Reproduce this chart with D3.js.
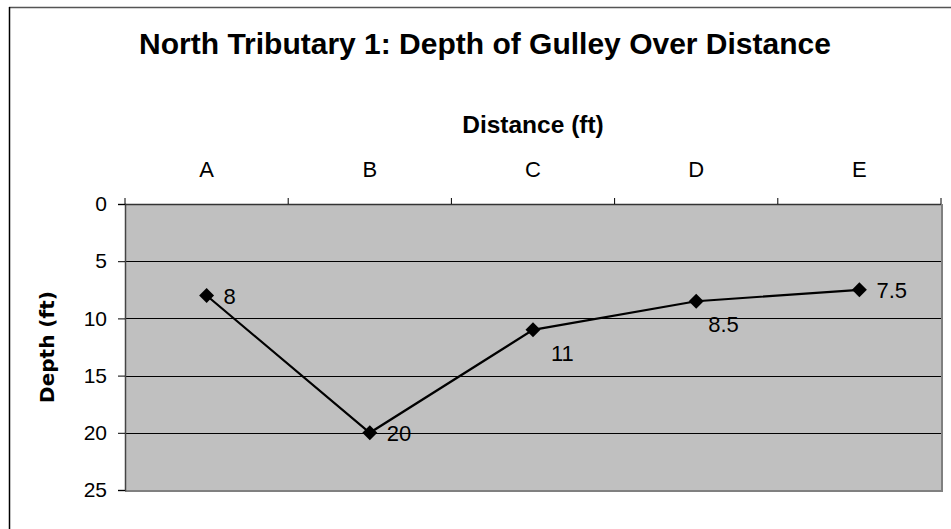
<!DOCTYPE html>
<html>
<head>
<meta charset="utf-8">
<script src="https://cdn.jsdelivr.net/npm/d3@7"></script>
<style>
  body { margin: 0; background: #fff; }
  text { font-family: "Liberation Sans", Arial, sans-serif; fill: #000; }
</style>
</head>
<body>
<div id="chart"></div>
<script>
// data
var categories = ["A", "B", "C", "D", "E"];
var depths = [8, 20, 11, 8.5, 7.5];
var yTicks = [0, 5, 10, 15, 20, 25];
// label placement per point: "right" or "below"
var labelPos = ["right", "right", "below", "below", "right"];

var W = 951, H = 529;
var margin = {top: 204, right: 10, bottom: 39, left: 125},
    width = W - margin.left - margin.right,
    height = H - margin.top - margin.bottom;

const svg = d3.select("#chart")
  .append("svg")
    .attr("width", W)
    .attr("height", H);

// outer frame (top + left lines)
svg.append("line").attr("x1", 9).attr("x2", W).attr("y1", 7.5).attr("y2", 7.5)
  .attr("stroke", "#555").attr("stroke-width", 1.5);
svg.append("line").attr("x1", 9.5).attr("x2", 9.5).attr("y1", 7).attr("y2", H)
  .attr("stroke", "#000").attr("stroke-width", 1.5);

// title
svg.append("text")
  .attr("x", 485).attr("y", 54)
  .attr("text-anchor", "middle")
  .style("font-size", "30px").style("font-weight", "bold")
  .text("North Tributary 1: Depth of Gulley Over Distance");

const g = svg.append("g")
  .attr("transform", `translate(${margin.left},${margin.top})`);

var xscale = d3.scaleBand().domain(categories).range([0, width]);
var yscale = d3.scaleLinear().domain([0, 25]).range([0, height]);

// plot area
g.append("rect")
  .attr("width", width).attr("height", height)
  .attr("fill", "#c0c0c0");

// gridlines
g.selectAll(".grid")
  .data(yTicks.filter(d => d > 0 && d < 25))
  .join("line")
    .attr("x1", 0).attr("x2", width)
    .attr("y1", d => Math.round(yscale(d)) + 0.5)
    .attr("y2", d => Math.round(yscale(d)) + 0.5)
    .attr("stroke", "#000").attr("stroke-width", 1);

// right & bottom border
g.append("line").attr("x1", width + 1).attr("x2", width + 1).attr("y1", 0).attr("y2", height + 2)
  .attr("stroke", "#808080").attr("stroke-width", 2);
g.append("line").attr("x1", 0).attr("x2", width + 2).attr("y1", height + 1).attr("y2", height + 1)
  .attr("stroke", "#808080").attr("stroke-width", 2);

// y axis
var yAxis = d3.axisLeft(yscale).tickValues(yTicks).tickSize(7).tickPadding(11);
g.append("g").attr("class", "yaxis").call(yAxis)
  .call(a => a.select(".domain").attr("stroke", "#444").attr("stroke-width", 1.5))
  .call(a => a.selectAll(".tick line").attr("stroke", "#000"))
  .call(a => a.selectAll("text").style("font-size", "21px").attr("font-family", null));

// x axis at top, ticks between categories
var xAxis = d3.axisTop(xscale).tickSize(0).tickPadding(27);
g.append("g").attr("class", "xaxis").call(xAxis)
  .call(a => a.select(".domain").remove())
  .call(a => a.selectAll("text").style("font-size", "22px").attr("font-family", null));

g.append("line").attr("x1", 0).attr("x2", width).attr("y1", 0.5).attr("y2", 0.5)
  .attr("stroke", "#333").attr("stroke-width", 1.5);
g.selectAll(".xtick")
  .data(categories.concat(["end"]))
  .join("line")
    .attr("x1", (d, i) => i * xscale.step())
    .attr("x2", (d, i) => i * xscale.step())
    .attr("y1", 0).attr("y2", -6)
    .attr("stroke", "#000");

// axis titles
svg.append("text")
  .attr("x", margin.left + width / 2).attr("y", 133)
  .attr("text-anchor", "middle")
  .style("font-size", "24.5px").style("font-weight", "bold")
  .text("Distance (ft)");

svg.append("text")
  .attr("transform", `translate(54,${margin.top + height / 2}) rotate(-90)`)
  .attr("text-anchor", "middle")
  .style("font-family", "'DejaVu Sans', sans-serif")
  .style("font-size", "20px").style("font-weight", "bold")
  .text("Depth (ft)");

// line
var data = categories.map((c, i) => ({cat: c, v: depths[i], pos: labelPos[i]}));
var valueline = d3.line()
  .x(d => xscale(d.cat) + xscale.bandwidth() / 2)
  .y(d => yscale(d.v));

g.append("path")
  .datum(data)
  .attr("d", valueline)
  .attr("fill", "none")
  .attr("stroke", "#000")
  .attr("stroke-width", 2.2);

// diamond markers
g.selectAll(".marker")
  .data(data)
  .join("path")
    .attr("class", "marker")
    .attr("d", d3.symbol().type(d3.symbolSquare).size(112))
    .attr("transform", d => `translate(${xscale(d.cat) + xscale.bandwidth() / 2},${yscale(d.v)}) rotate(45)`)
    .attr("fill", "#000");

// data labels
g.selectAll(".dlabel")
  .data(data)
  .join("text")
    .attr("class", "dlabel")
    .attr("x", d => xscale(d.cat) + xscale.bandwidth() / 2 + (d.pos === "right" ? 17 : (d.v > 10 ? 18 : 12)))
    .attr("y", d => yscale(d.v) + (d.pos === "right" ? 8 : 31))
    .style("font-size", "22px")
    .text(d => d.v);
</script>
</body>
</html>
